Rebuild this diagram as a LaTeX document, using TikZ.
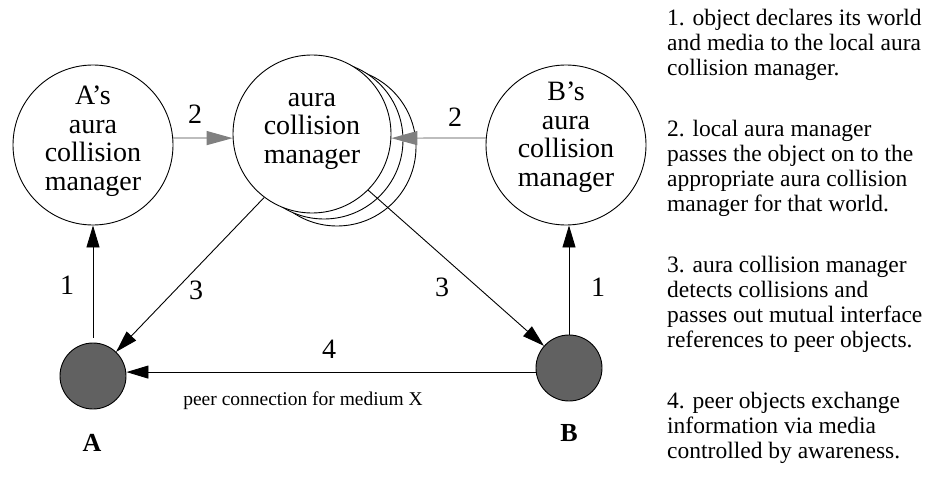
\documentclass[tikz,border=0pt]{standalone}
\usepackage{fontspec}
\setmainfont{Liberation Serif}
\usetikzlibrary{arrows.meta}
\begin{document}
\begin{tikzpicture}[x=1pt,y=-1pt,
  bigcirc/.style={circle,draw,line width=0.9pt,minimum size=160pt,inner sep=0pt,fill=white},
  dot/.style={circle,draw,line width=0.9pt,minimum size=66pt,inner sep=0pt,fill=black!62},
  ctext/.style={align=center,font=\fontsize{28}{28.5}\selectfont,inner sep=0pt},
  arr/.style={line width=0.9pt,-{Triangle[length=22pt,width=13pt]}},
  garr/.style={line width=1.2pt,draw=black!40,-{Triangle[length=26pt,width=14pt,color=black!50]}},
  num/.style={font=\fontsize{28}{28}\selectfont,inner sep=0pt},
  side/.style={anchor=north west,align=left,inner sep=0pt,font=\fontsize{23.5}{25}\selectfont},
]
\useasboundingbox (0,0) rectangle (926,492);
% circles
\node[bigcirc] (Ac) at (93,145) {};
\node[bigcirc] (Bc) at (566,145) {};
\node[bigcirc,minimum size=158pt] (cm3) at (337,147) {};
\node[bigcirc,minimum size=158pt] (cm2) at (324,140) {};
\node[bigcirc,minimum size=158pt] (cm) at (312,134) {};
\node[ctext] (At) at (93,141) {A's\\aura\\collision\\manager};
\node[ctext] (Ct) at (312,131) {aura\\collision\\manager};
\node[ctext] (Bt) at (566,137) {B's\\aura\\collision\\manager};
% objects
\node[dot] (dA) at (93,376) {};
\node[dot] (dB) at (569,368) {};
\node[font=\fontsize{26}{26}\selectfont\bfseries,inner sep=0pt] (lA) at (92,443) {A};
\node[font=\fontsize{26}{26}\selectfont\bfseries,inner sep=0pt] (lB) at (569,433) {B};
% connectors
\draw[arr,shorten <=5pt] (dA.north) -- (Ac.south);
\draw[arr] (dB.north) -- (dB.north |- Bc.south);
\draw[garr] (Ac.5) -- (cm.183);
\draw[garr] (Bc.175) -- (cm.-3);
\draw[arr] (cm.233) -- (dA);
\draw[arr] (cm.-45) -- (dB);
\draw[arr] (dB.187) -- (dB.187 -| dA.east);
% numbers
\node[num] (n1a) at (67,285) {1};
\node[num] (n1b) at (598,287) {1};
\node[num] (n2a) at (195,114) {2};
\node[num] (n2b) at (455,117) {2};
\node[num] (n3a) at (196,290) {3};
\node[num] (n3b) at (442,287) {3};
\node[num] (n4) at (329,349) {4};
\node[font=\fontsize{19.5}{19.5}\selectfont,inner sep=0pt] (peer) at (303,401) {peer connection for medium X};
% side text
\node[side] (txt) at (667,9) {1. object declares its world\\
and media to the local aura\\
collision manager.\\[36pt]
2. local aura manager\\
passes the object on to the\\
appropriate aura collision\\
manager for that world.\\[36pt]
3. aura collision manager\\
detects collisions and\\
passes out mutual interface\\
references to peer objects.\\[36pt]
4. peer objects exchange\\
information via media\\
controlled by awareness.};
\end{tikzpicture}
\end{document}
